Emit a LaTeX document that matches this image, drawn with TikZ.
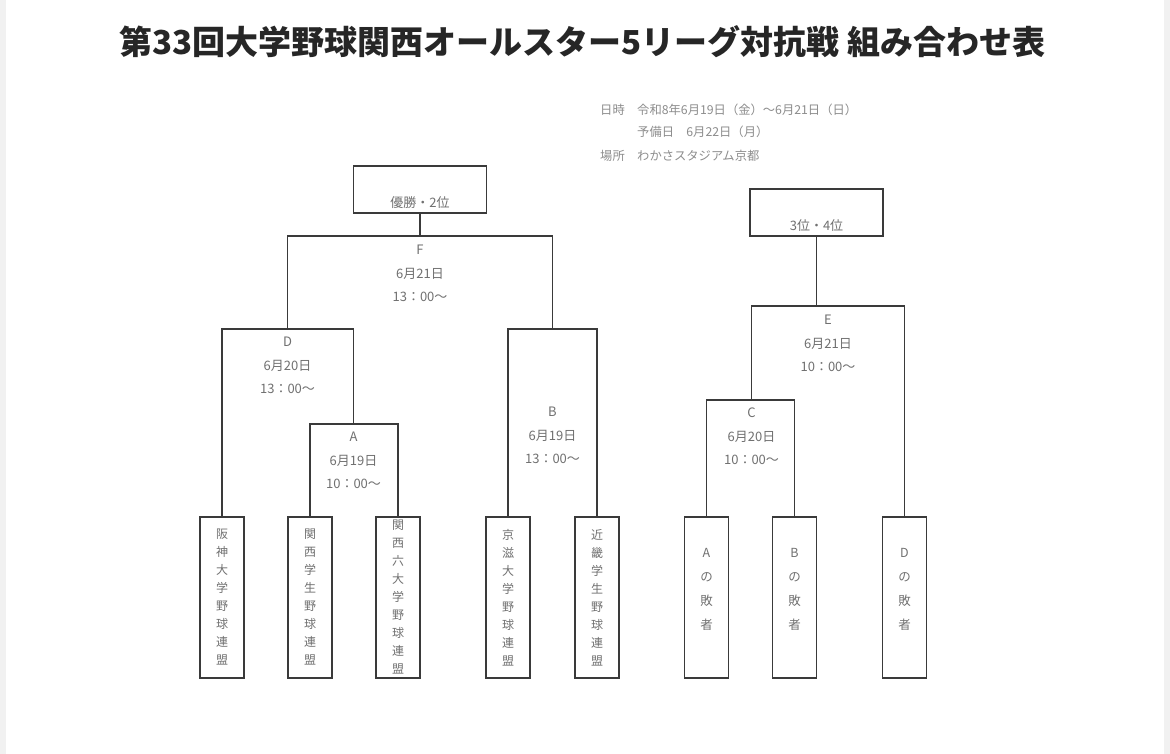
\documentclass[tikz,border=0pt]{standalone}
\usepackage{fontspec}
\setmainfont{Noto Sans CJK JP}
\usetikzlibrary{positioning}
\definecolor{linegray}{HTML}{3A3A3A}
\definecolor{txtgray}{HTML}{707070}
\definecolor{edgegray}{HTML}{F1F1F1}
\begin{document}
\begin{tikzpicture}[x=1pt,y=-1pt,
  bar/.style={draw=linegray,line width=1.7pt},
  team/.style={draw=linegray,line width=1.7pt,minimum width=44pt,minimum height=161pt,inner sep=0pt,align=center,text=txtgray,font=\fontsize{12}{18}\selectfont},
  stack/.style={align=center,inner sep=0pt,text=txtgray,font=\fontsize{12.5}{24}\selectfont},
  rank/.style={draw=linegray,line width=1.7pt,minimum width=133pt,minimum height=47pt,inner sep=0pt},
  ranktext/.style={inner sep=0pt,text=txtgray,font=\fontsize{13}{15}\selectfont},
  game/.style={align=center,inner sep=0pt,text=txtgray,font=\fontsize{13}{23.5}\selectfont},
  info/.style={anchor=west,inner sep=0pt,text=txtgray!80,font=\fontsize{12.3}{14}\selectfont}]
  \fill[edgegray] (0,0) rectangle (1170,754);
  \fill[white] (6,0) rectangle (1164,754);
  \useasboundingbox (0,0) rectangle (1170,754);

  \node[font=\fontsize{33}{33}\selectfont\bfseries,text=black!85,inner sep=0pt] (title) at (582.5,42) {第33回大学野球関西オールスター5リーグ対抗戦 組み合わせ表};

  \node[info] (when) at (600,110) {日時};
  \node[info] (dates) at (637,110) {令和8年6月19日（金）～6月21日（日）};
  \node[info] (spare) at (637,132) {予備日　6月22日（月）};
  \node[info] (where) at (600,156) {場所};
  \node[info] (venue) at (637,156) {わかさスタジアム京都};

  \node[rank] (win) at (420,189.5) {};
  \node[ranktext] (wintxt) at (420,203) {優勝・2位};
  \node[rank] (third) at (816.5,212.5) {};
  \node[ranktext] (thirdtxt) at (816.5,226) {3位・4位};

  \node[team] (hanshin) at (222,597.5) {阪\\神\\大\\学\\野\\球\\連\\盟};
  \node[team] (kgakusei) at (310,597.5) {関\\西\\学\\生\\野\\球\\連\\盟};
  \node[team] (rokudai) at (398,597.5) {関\\西\\六\\大\\学\\野\\球\\連\\盟};
  \node[team] (keiji) at (508,597.5) {京\\滋\\大\\学\\野\\球\\連\\盟};
  \node[team] (kinki) at (597,597.5) {近\\畿\\学\\生\\野\\球\\連\\盟};
  \node[team] (aloser) at (706.5,597.5) {};
  \node[team] (bloser) at (794.5,597.5) {};
  \node[team] (dloser) at (904.5,597.5) {};
  \node[stack] (alosertxt) at (706.5,589) {A\\の\\敗\\者};
  \node[stack] (blosertxt) at (794.5,589) {B\\の\\敗\\者};
  \node[stack] (dlosertxt) at (904.5,589) {D\\の\\敗\\者};

  \coordinate (mA) at (353.5,424);
  \coordinate (mB) at (552.5,329);
  \coordinate (mC) at (751.5,400);
  \coordinate (mD) at (287.5,329);
  \coordinate (mE) at (828,306);
  \coordinate (mF) at (420,236);

  \draw[bar] (kgakusei.north) |- (mA) -| (rokudai.north);
  \draw[bar] (hanshin.north) |- (mD) -| (mA);
  \draw[bar] (keiji.north) |- (mB) -| (kinki.north);
  \draw[bar] (mD) |- (mF) -| (mB);
  \draw[bar] (win.south) -- (mF);
  \draw[bar] (aloser.north) |- (mC) -| (bloser.north);
  \draw[bar] (mC) |- (mE) -| (dloser.north);
  \draw[bar] (third.south) -- (third.south |- mE);

  \node[game,below=9pt of mF] (gF) {F\\6月21日\\13：00～};
  \node[game,below=8pt of mD] (gD) {D\\6月20日\\13：00～};
  \node[game,below=8pt of mA] (gA) {A\\6月19日\\10：00～};
  \node[game,below=78pt of mB] (gB) {B\\6月19日\\13：00～};
  \node[game,below=9pt of mE] (gE) {E\\6月21日\\10：00～};
  \node[game,below=8pt of mC] (gC) {C\\6月20日\\10：00～};
\end{tikzpicture}
\end{document}
